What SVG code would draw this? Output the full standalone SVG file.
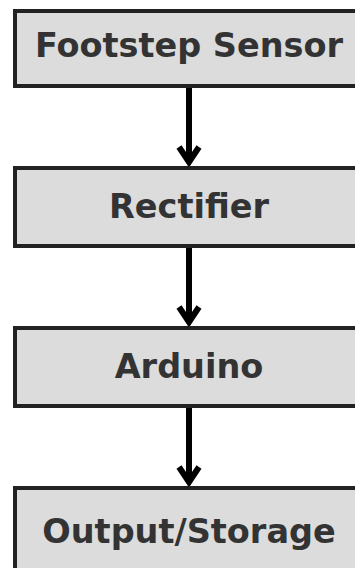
<svg xmlns="http://www.w3.org/2000/svg" width="355" height="568" viewBox="0 0 355 568">
  <style>
    .box { fill: #dcdcdc; stroke: #222; stroke-width: 4; }
    .label { font-family: "DejaVu Sans", sans-serif; font-weight: bold; font-size: 33.5px; fill: #333; text-anchor: middle; }
    .edge { stroke: #000; stroke-width: 6; fill: none; }
    .head { stroke: #000; stroke-width: 6; fill: none; stroke-linejoin: miter; stroke-miterlimit: 10; stroke-linecap: butt; }
  </style>
  <rect width="355" height="568" fill="#ffffff"/>
  <g id="connectors">
    <g id="e1"><line class="edge" x1="189" y1="86" x2="189" y2="160"/><path class="head" d="M179,147 L189,162 L199,147"/></g>
    <g id="e2"><line class="edge" x1="189" y1="246" x2="189" y2="320"/><path class="head" d="M179,307 L189,322 L199,307"/></g>
    <g id="e3"><line class="edge" x1="189" y1="406" x2="189" y2="480"/><path class="head" d="M179,467 L189,482 L199,467"/></g>
  </g>
  <g id="footstep-sensor">
    <rect class="box" x="15" y="11" width="350" height="75"/>
    <text class="label" x="189" y="57">Footstep Sensor</text>
  </g>
  <g id="rectifier">
    <rect class="box" x="15" y="168" width="350" height="78"/>
    <text class="label" x="189" y="218">Rectifier</text>
  </g>
  <g id="arduino">
    <rect class="box" x="15" y="328" width="350" height="78"/>
    <text class="label" x="189" y="378">Arduino</text>
  </g>
  <g id="output-storage">
    <rect class="box" x="15" y="488" width="350" height="90"/>
    <text class="label" x="189" y="543">Output/Storage</text>
  </g>
</svg>
